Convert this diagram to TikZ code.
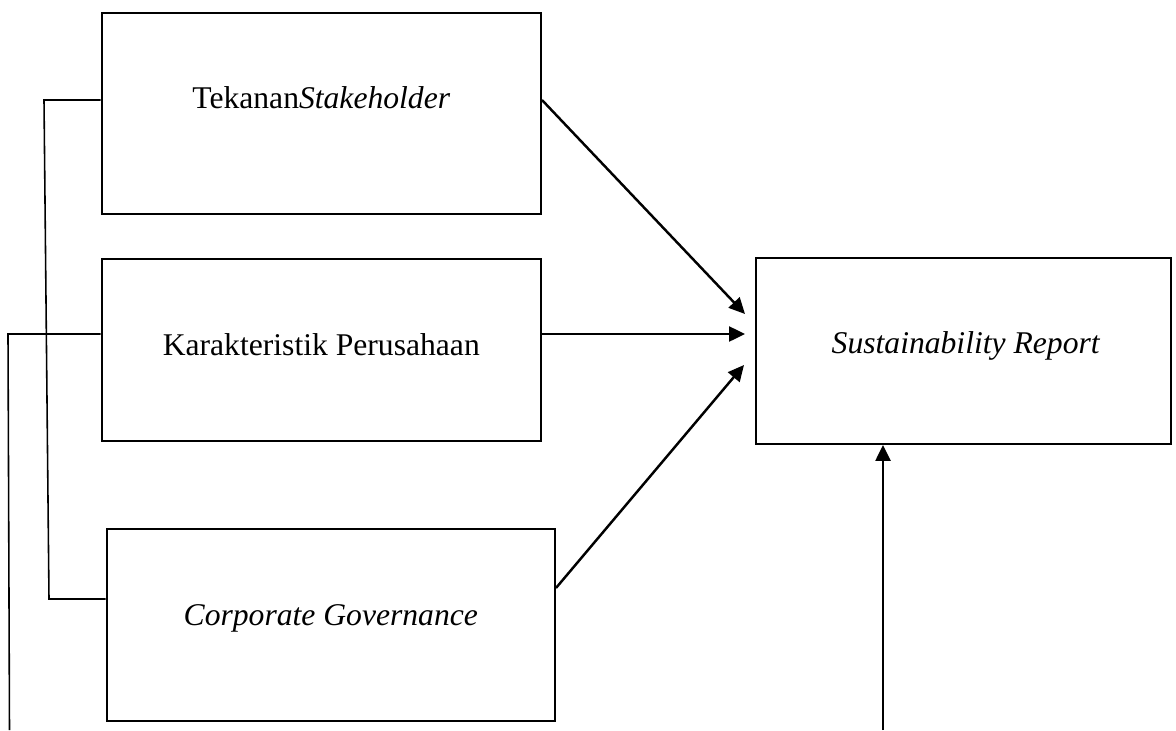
\documentclass[tikz,border=0pt]{standalone}
\usepackage{fontspec}
\setmainfont{Liberation Serif}
\usetikzlibrary{arrows.meta}

\begin{document}
\begin{tikzpicture}[x=0.02cm,y=-0.02cm,
  box/.style={draw, line width=1.1pt, inner sep=0pt},
  txt/.style={anchor=base, inner sep=0pt},
  link/.style={line width=0.9pt},
  arr/.style={line width=1.4pt, -{Triangle[length=0.32cm,width=0.3cm]}},
  font=\fontsize{18}{22}\selectfont]
\useasboundingbox (0,0) rectangle (1176,730);

% boxes
\node[box, minimum width=8.79cm, minimum height=4.02cm] (tek) at (321.3,113.5) {};
\node[box, minimum width=8.79cm, minimum height=3.64cm] (kar) at (321.3,350) {};
\node[box, minimum width=8.97cm, minimum height=3.84cm] (cg) at (330.8,625) {};
\node[box, minimum width=8.31cm, minimum height=3.72cm] (sr) at (963.3,351) {};

% texts
\node[txt] (tek-t) at (tek.center |- 0,108) {Tekanan\textit{Stakeholder}};
\node[txt] (kar-t) at (kar.center |- 0,355) {Karakteristik Perusahaan};
\node[txt] (cg-t) at (cg.center |- 0,625) {\textit{Corporate Governance}};
\node[txt] (sr-t) at (966,353) {\textit{Sustainability Report}};

% free ends
\coordinate (b1) at (44,100);
\coordinate (b2) at (49,599);
\coordinate (c1) at (8,334);
\coordinate (c2) at (9.5,730);
\coordinate (d1) at (883,730);
\coordinate (in1) at (745,314);
\coordinate (in2) at (745,334);
\coordinate (in3) at (744,365);

% left lines
\draw[link] (tek.west |- b1) -- (b1) -- (b2) -- (cg.west |- b2);
\draw[link] (kar.west |- c1) -- (c1) -- (c2);

% arrows
\draw[arr] (tek.east |- b1) -- (in1);
\draw[arr] (kar.east |- c1) -- (in2);
\draw[arr] (cg.east |- 0,588) -- (in3);
\draw[arr] (d1) -- (sr.south -| d1);
\end{tikzpicture}
\end{document}
